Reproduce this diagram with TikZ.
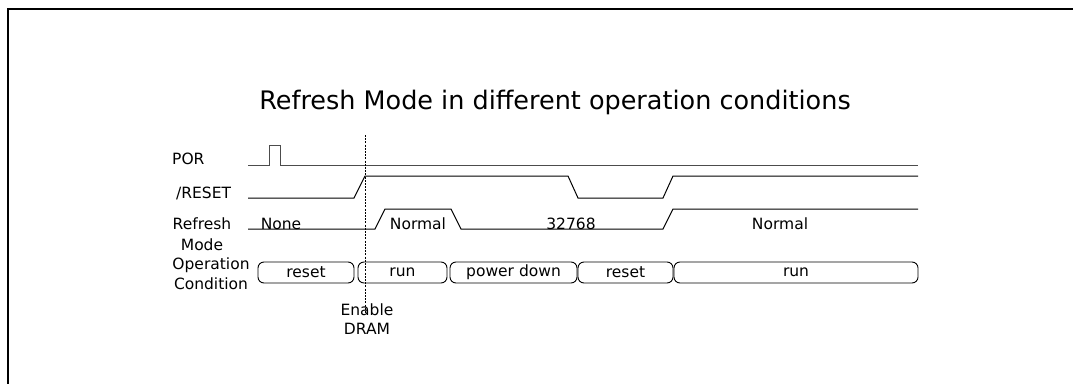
\documentclass[tikz,border=0pt]{standalone}
\usepackage{fontspec}
\setmainfont{DejaVu Sans}
\begin{document}
\begin{tikzpicture}[x=1pt,y=-1pt,
  lbl/.style={inner sep=0pt,font=\fontsize{15.5}{20}\selectfont},
  sig/.style={line width=1pt,black},
  opbox/.style={draw,line width=0.9pt,rounded corners=6pt,minimum height=21pt,inner sep=0pt,font=\fontsize{15.5}{21}\selectfont},
  dline/.style={line width=0.7pt,dash pattern=on 2pt off 1.2pt}]
\useasboundingbox (0,0) rectangle (1073,383);
\clip (0,0) rectangle (1073,383);
\draw[line width=2.5pt] (8,400) -- (8,9) -- (1090,9);
% title
\node[inner sep=0pt,anchor=base,font=\fontsize{25.5}{30}\selectfont] (title) at (555,109) {Refresh Mode in different operation conditions};
% row labels
\node[lbl,anchor=base west] (lpor) at (172,164) {POR};
\node[lbl,anchor=base west] (lreset) at (176,198) {/RESET};
\node[lbl,anchor=base,align=center,font=\fontsize{15.5}{21}\selectfont] (lref) at (202,250) {Refresh\\Mode};
\node[lbl,anchor=base,align=center,font=\fontsize{15.5}{19.5}\selectfont] (lop) at (211,289) {Operation\\Condition};
% POR
\draw[sig,black!70] (248,165) -- (269,165) -- (269,145) -- (280,145) -- (280,165) -- (918,165);
% /RESET
\draw[sig] (248,198) -- (354,198) -- (365,176) -- (568,176) -- (578,198) -- (663,198) -- (673,176) -- (918,176);
% Refresh mode
\draw[sig] (248,229) -- (375,229) -- (385,209) -- (451,209) -- (461,229) -- (663,229) -- (673,209) -- (918,209);
\node[lbl,anchor=base] (tnone) at (281,229) {None};
\node[lbl,anchor=base] (tnorm1) at (418,229) {Normal};
\node[lbl,anchor=base] (t32768) at (571,229) {32768};
\node[lbl,anchor=base] (tnorm2) at (780,229) {Normal};
% operation condition
\node[opbox,minimum width=96pt] (b1) at (306,272.5) {reset};
\node[opbox,minimum width=89pt] (b2) at (402.5,272.5) {run};
\node[opbox,minimum width=127pt] (b3) at (513.5,272.5) {power down};
\node[opbox,minimum width=95pt] (b4) at (625.5,272.5) {reset};
\node[opbox,minimum width=244pt] (b5) at (796,272.5) {run};
% enable DRAM
\node[lbl,anchor=base,align=center,font=\fontsize{15.5}{19}\selectfont] (en) at (367,334) {Enable\\DRAM};
\coordinate (dtop) at (365,135);
\coordinate (dbot) at (365,313);
\draw[dline] (dtop) -- (dbot);
\end{tikzpicture}
\end{document}
